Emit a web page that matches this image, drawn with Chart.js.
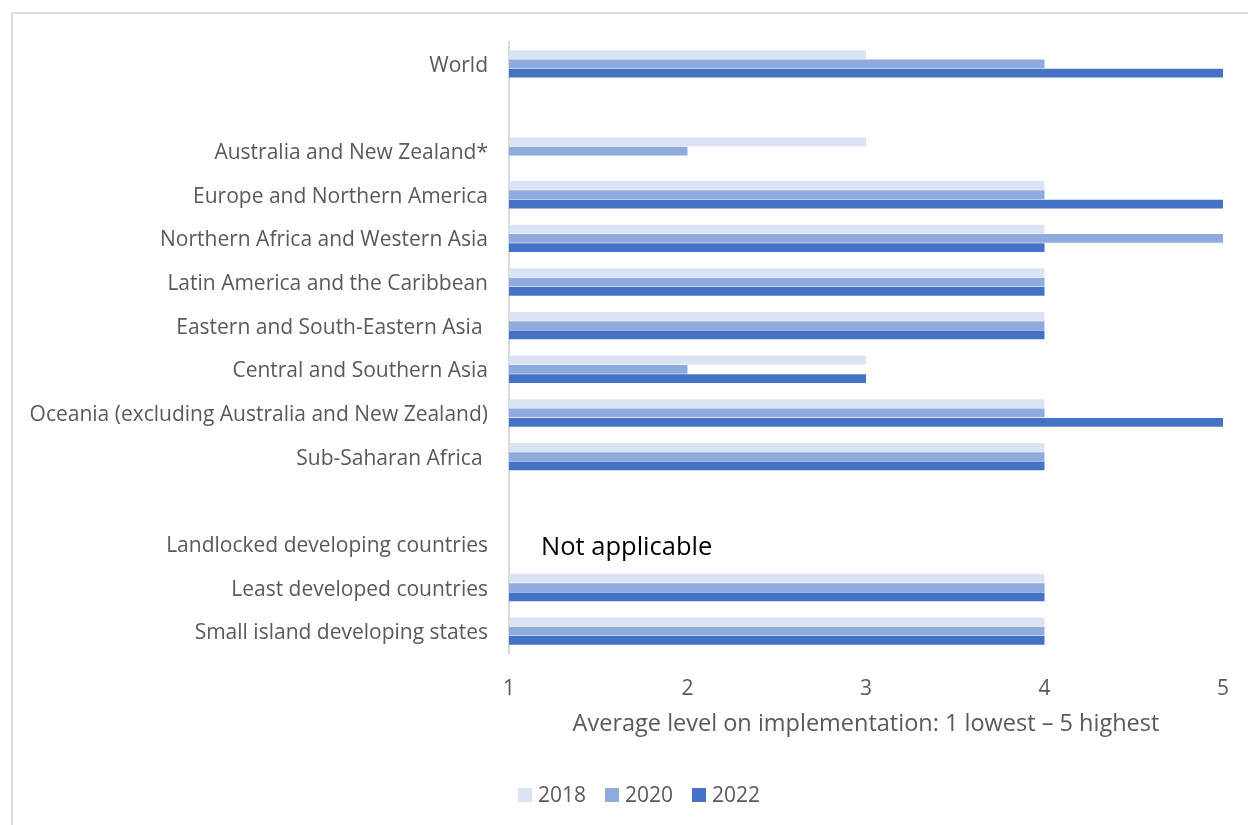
<!DOCTYPE html>
<html>
<head>
<meta charset="utf-8">
<script src="https://cdn.jsdelivr.net/npm/chart.js@4/dist/chart.umd.min.js"></script>
<style>
  body { margin: 0; background: #fff; overflow: hidden; }
  #frame { position: absolute; left: 11px; top: 12px; width: 1400px; height: 1000px; border: 2px solid #dcdcdc; }
  canvas { position: absolute; left: 0; top: 0; }
</style>
</head>
<body>
<div id="frame"></div>
<canvas id="chart" width="1248" height="825"></canvas>
<script>
const regions = [
  'World', '', 'Australia and New Zealand*', 'Europe and Northern America',
  'Northern Africa and Western Asia', 'Latin America and the Caribbean',
  'Eastern and South-Eastern Asia ', 'Central and Southern Asia',
  'Oceania (excluding Australia and New Zealand)', 'Sub-Saharan Africa ', '',
  'Landlocked developing countries', 'Least developed countries', 'Small island developing states'
];
const years = ['2018', '2020', '2022'];
const level2018 = [3, null, 3, 4, 4, 4, 4, 3, 4, 4, null, null, 4, 4];
const level2020 = [4, null, 2, 4, 5, 4, 4, 2, 4, 4, null, null, 4, 4];
const level2022 = [5, null, null, 5, 4, 4, 4, 3, 5, 4, null, null, 4, 4];
const xTicks = [1, 2, 3, 4, 5];
const noteRow = 'Landlocked developing countries';
const noteText = 'Not applicable';
const axisTitle = 'Average level on implementation: 1 lowest \u2013 5 highest';

const colors = ['#DAE3F3', '#8FAADC', '#4472C4'];
const font = "'Open Sans', sans-serif";
const gray = '#595959';

// note + legend drawn after the bars
const extras = {
  id: 'extras',
  afterDraw(chart) {
    const ctx = chart.ctx;
    const y = chart.scales.y.getPixelForValue(regions.indexOf(noteRow));
    ctx.save();
    ctx.fillStyle = '#000';
    ctx.font = "25.5px " + font;
    ctx.textBaseline = 'middle';
    ctx.fillText(noteText, chart.chartArea.left + 32, y + 4);

    ctx.font = "21px " + font;
    const box = 14, gap = 6, spacing = 19;
    let total = 0;
    years.forEach(t => { total += box + gap + ctx.measureText(t).width; });
    total += spacing * (years.length - 1);
    let x = 639 - total / 2;
    const ly = 796;
    years.forEach((t, i) => {
      ctx.fillStyle = colors[i];
      ctx.fillRect(x, ly - box / 2 - 1, box, box);
      x += box + gap;
      ctx.fillStyle = gray;
      ctx.fillText(t, x, ly);
      x += ctx.measureText(t).width + spacing;
    });
    ctx.restore();
  }
};

new Chart(document.getElementById('chart'), {
  type: 'bar',
  data: {
    labels: regions,
    datasets: [
      { label: years[0], data: level2018, backgroundColor: colors[0] },
      { label: years[1], data: level2020, backgroundColor: colors[1] },
      { label: years[2], data: level2022, backgroundColor: colors[2] }
    ]
  },
  options: {
    indexAxis: 'y',
    responsive: false,
    animation: false,
    layout: { padding: { top: 42, right: 25, bottom: 72, left: 0 } },
    datasets: { bar: { categoryPercentage: 0.64, barPercentage: 0.94, borderWidth: 0 } },
    plugins: { legend: { display: false }, tooltip: { enabled: false } },
    scales: {
      x: {
        min: 1, max: 5,
        afterBuildTicks: s => { s.ticks = xTicks.map(v => ({ value: v })); },
        afterFit: s => { s.height = 100; },
        grid: { display: false },
        border: { display: false },
        ticks: { color: gray, font: { family: font, size: 21 }, padding: 15 },
        title: { display: true, text: axisTitle, color: gray, font: { family: font, size: 23.5 }, padding: { top: 0, bottom: 15 } }
      },
      y: {
        afterFit: s => { s.width = 509; },
        grid: { display: false, drawTicks: false },
        border: { display: true, color: '#d9d9d9', width: 2 },
        ticks: { color: gray, font: { family: font, size: 21 }, padding: 21, labelOffset: 2, autoSkip: false }
      }
    }
  },
  plugins: [extras]
});
</script>
</body>
</html>
